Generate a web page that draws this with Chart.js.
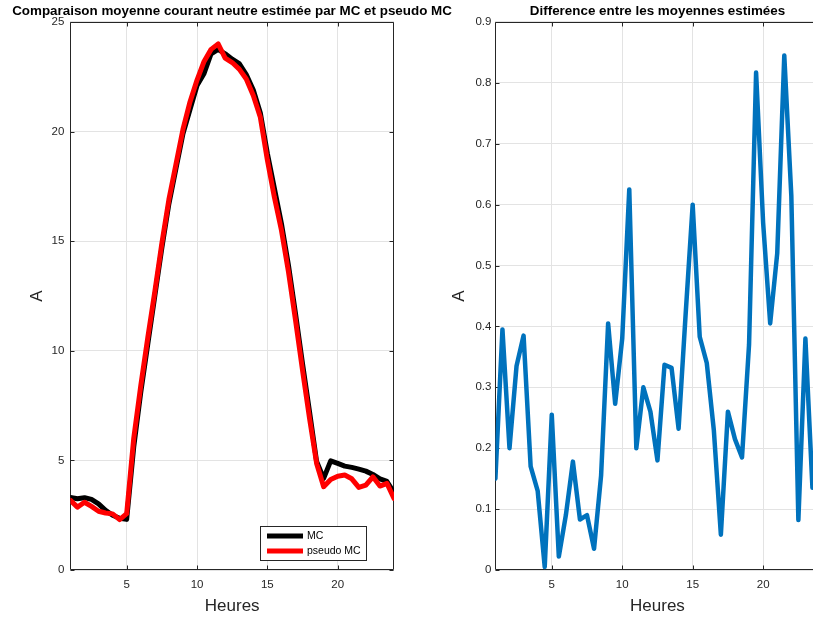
<!DOCTYPE html>
<html lang="fr">
<head>
    <meta charset="UTF-8">
    <title>Courant neutre - MC et pseudo MC</title>
    <script src="https://cdn.jsdelivr.net/npm/chart.js"></script>
    <style>
        html, body {
            margin: 0;
            padding: 0;
            background: #fff;
            width: 813px;
            height: 619px;
            overflow: hidden;
        }
        .plot {
            position: absolute;
            top: 0;
        }
        #chartLeft { left: 0; }
        #chartRight { left: 420px; }
    </style>
</head>
<body>
    <canvas id="chartLeft" class="plot" width="464" height="619"></canvas>
    <canvas id="chartRight" class="plot" width="475" height="619"></canvas>

    <script>
        // Data (one point every half hour)
        const heures = [1, 1.5, 2, 2.5, 3, 3.5, 4, 4.5, 5, 5.5, 6, 6.5, 7, 7.5, 8, 8.5,
            9, 9.5, 10, 10.5, 11, 11.5, 12, 12.5, 13, 13.5, 14, 14.5, 15, 15.5, 16, 16.5,
            17, 17.5, 18, 18.5, 19, 19.5, 20, 20.5, 21, 21.5, 22, 22.5, 23, 23.5, 24];

        const mc = [3.31, 3.25, 3.3, 3.22, 3.02, 2.72, 2.5, 2.36, 2.31, 5.6, 8.1, 10.3,
            12.5, 14.7, 16.7, 18.3, 19.9, 21.0, 22.1, 22.65, 23.55, 23.75, 23.55, 23.3,
            23.1, 22.6, 21.9, 20.85, 19.0, 17.4, 15.8, 13.9, 11.7, 9.4, 7.2, 4.95,
            4.18, 4.98, 4.86, 4.74, 4.68, 4.6, 4.51, 4.36, 4.16, 4.04, 3.52];

        const pseudoMc = [3.18, 2.87, 3.09, 2.9, 2.68, 2.6, 2.56, 2.3, 2.57, 6.0, 8.4, 10.6,
            12.7, 14.9, 16.9, 18.5, 20.1, 21.35, 22.35, 23.2, 23.75, 24.0, 23.35, 23.15,
            22.85, 22.4, 21.65, 20.65, 18.7, 17.0, 15.5, 13.6, 11.4, 9.1, 6.9, 4.86,
            3.8, 4.13, 4.28, 4.33, 4.16, 3.77, 3.87, 4.25, 3.83, 3.95, 3.27];

        const difference = [0.15, 0.395, 0.2, 0.335, 0.385, 0.17, 0.13, 0.005, 0.255, 0.022,
            0.09, 0.178, 0.083, 0.09, 0.035, 0.155, 0.405, 0.273, 0.38, 0.625, 0.2, 0.3,
            0.26, 0.18, 0.337, 0.332, 0.232, 0.42, 0.6, 0.383, 0.34, 0.23, 0.058, 0.26,
            0.215, 0.185, 0.37, 0.817, 0.57, 0.405, 0.52, 0.845, 0.615, 0.082, 0.38, 0.135, 0.2];

        const xTicks = [5, 10, 15, 20];

        const FONT = '"Liberation Sans", Arial, Helvetica, sans-serif';
        const AXIS_COLOR = '#262626';
        const GRID_COLOR = '#e3e3e3';

        const toPoints = (ys) => heures.map((h, i) => ({ x: h, y: ys[i] }));

        // MATLAB-like box with inward ticks on all four sides
        const axesBox = {
            id: 'axesBox',
            beforeDatasetsDraw(chart) {
                const { ctx, chartArea: a, scales } = chart;
                const L = Math.round(a.left) + 0.5, R = Math.round(a.right) - 0.5;
                const T = Math.round(a.top) + 0.5, B = Math.round(a.bottom) - 0.5;
                ctx.save();
                ctx.strokeStyle = AXIS_COLOR;
                ctx.lineWidth = 1;
                ctx.beginPath();
                ctx.rect(L, T, R - L, B - T);
                scales.x.ticks.forEach(t => {
                    const px = Math.round(scales.x.getPixelForValue(t.value)) + 0.5;
                    ctx.moveTo(px, B); ctx.lineTo(px, B - 4);
                    ctx.moveTo(px, T); ctx.lineTo(px, T + 4);
                });
                scales.y.ticks.forEach(t => {
                    const py = Math.round(scales.y.getPixelForValue(t.value)) + 0.5;
                    ctx.moveTo(L, py); ctx.lineTo(L + 4, py);
                    ctx.moveTo(R, py); ctx.lineTo(R - 4, py);
                });
                ctx.stroke();
                ctx.restore();
            }
        };

        // boxed legend in the lower right corner of the axes
        const boxLegend = {
            id: 'boxLegend',
            afterDraw(chart, args, opts) {
                if (!opts.display) return;
                const { ctx, chartArea: a } = chart;
                const w = 106, h = 34;
                const x0 = Math.round(a.right - 28 - w), y0 = Math.round(a.bottom - 10 - h);
                ctx.save();
                ctx.fillStyle = '#fff';
                ctx.fillRect(x0, y0, w, h);
                ctx.strokeStyle = AXIS_COLOR;
                ctx.lineWidth = 1;
                ctx.strokeRect(x0 + 0.5, y0 + 0.5, w, h);
                ctx.font = '10.5px ' + FONT;
                ctx.textBaseline = 'middle';
                chart.data.datasets.forEach((ds, i) => {
                    const y = y0 + 10 + i * 15;
                    ctx.strokeStyle = ds.borderColor;
                    ctx.lineWidth = 5;
                    ctx.beginPath();
                    ctx.moveTo(x0 + 7, y);
                    ctx.lineTo(x0 + 43, y);
                    ctx.stroke();
                    ctx.fillStyle = '#000';
                    ctx.fillText(ds.label, x0 + 47, y);
                });
                ctx.restore();
            }
        };

        const makeOptions = (cfg) => ({
            responsive: false,
            animation: false,
            devicePixelRatio: 1,
            layout: { padding: 0 },
            elements: { point: { radius: 0 }, line: { tension: 0 } },
            plugins: {
                legend: { display: false },
                tooltip: { enabled: false },
                title: {
                    display: true,
                    text: cfg.title,
                    color: '#000',
                    font: { family: FONT, size: 13.4, weight: 'bold' },
                    padding: { top: 3.5, bottom: 2.4 }
                },
                boxLegend: { display: cfg.legend }
            },
            scales: {
                x: {
                    type: 'linear',
                    min: 1,
                    max: 24,
                    afterBuildTicks: (s) => { s.ticks = xTicks.map(v => ({ value: v })); },
                    afterFit: (s) => { s.height = 49; },
                    grid: { color: GRID_COLOR, drawTicks: false },
                    border: { display: false },
                    ticks: { color: AXIS_COLOR, padding: 8, font: { family: FONT, size: 11.5 } },
                    title: {
                        display: true,
                        text: 'Heures',
                        color: AXIS_COLOR,
                        font: { family: FONT, size: 17 },
                        padding: { top: 0, bottom: 2 }
                    }
                },
                y: {
                    min: cfg.yMin,
                    max: cfg.yMax,
                    afterFit: (s) => { s.width = cfg.leftW; },
                    grid: { color: GRID_COLOR, drawTicks: false },
                    border: { display: false },
                    ticks: { stepSize: cfg.yStep, color: AXIS_COLOR, padding: cfg.tickPad, font: { family: FONT, size: 11.5 } },
                    title: {
                        display: true,
                        text: 'A',
                        color: AXIS_COLOR,
                        font: { family: FONT, size: 17 },
                        padding: { top: cfg.labelPad, bottom: 0 }
                    }
                },
                // empty right-hand axis, only there to keep the title centred over the axes
                y2: {
                    position: 'right',
                    min: cfg.yMin,
                    max: cfg.yMax,
                    afterFit: (s) => { s.width = cfg.rightW; },
                    grid: { display: false },
                    border: { display: false },
                    ticks: { display: false }
                }
            }
        });

        new Chart(document.getElementById('chartLeft'), {
            type: 'line',
            data: {
                datasets: [{
                    label: 'MC',
                    data: toPoints(mc),
                    borderColor: '#000000',
                    borderWidth: 5,
                    borderJoinStyle: 'round',
                    borderCapStyle: 'round',
                    clip: { left: 0, right: 0, top: 5, bottom: 5 },
                    order: 1
                }, {
                    label: 'pseudo MC',
                    data: toPoints(pseudoMc),
                    borderColor: '#ff0000',
                    borderWidth: 5,
                    borderJoinStyle: 'round',
                    borderCapStyle: 'round',
                    clip: { left: 0, right: 0, top: 5, bottom: 5 },
                    order: 0
                }]
            },
            options: makeOptions({
                title: 'Comparaison moyenne courant neutre estimée par MC et pseudo MC',
                yMin: 0, yMax: 25, yStep: 5,
                leftW: 70.4, rightW: 70, tickPad: 6, labelPad: 27,
                legend: true
            }),
            plugins: [axesBox, boxLegend]
        });

        new Chart(document.getElementById('chartRight'), {
            type: 'line',
            data: {
                datasets: [{
                    label: 'Difference',
                    data: toPoints(difference),
                    borderColor: '#0072bd',
                    borderWidth: 4.5,
                    borderJoinStyle: 'round',
                    borderCapStyle: 'round',
                    clip: { left: 0, right: 0, top: 5, bottom: 0 }
                }]
            },
            options: makeOptions({
                title: 'Difference entre les moyennes estimées',
                yMin: 0, yMax: 0.9, yStep: 0.1,
                leftW: 75.4, rightW: 75.5, tickPad: 4, labelPad: 29,
                legend: false
            }),
            plugins: [axesBox, boxLegend]
        });
    </script>
</body>
</html>
